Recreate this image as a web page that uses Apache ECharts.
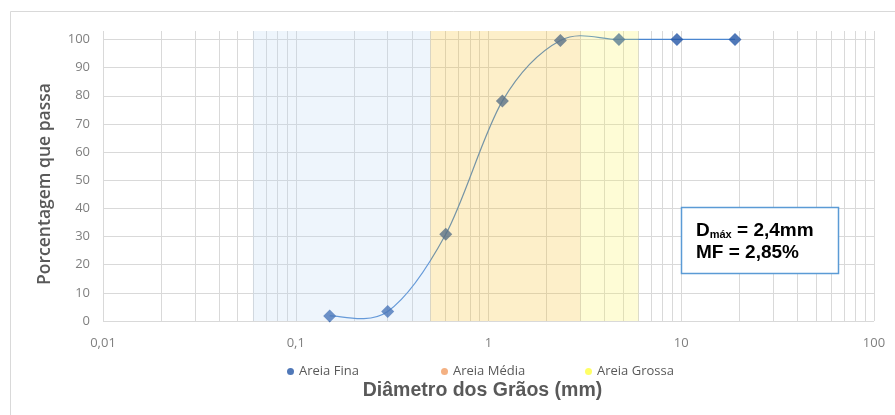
<!DOCTYPE html>
<html>
<head>
<meta charset="utf-8">
<script src="https://cdn.jsdelivr.net/npm/echarts@6/dist/echarts.min.js"></script>
<style>
html,body{margin:0;padding:0;background:#fff;}
#chart{width:895px;height:415px;}
</style>
</head>
<body>
<div id="chart"></div>
<script>
// ---- data ----
const diametros = [0.15, 0.3, 0.6, 1.18, 2.36, 4.75, 9.5, 19];
const passante = [1.8, 3.4, 30.8, 78.1, 99.6, 100, 100, 100];
const faixaFina = [0.06, 0.5];
const faixaMedia = [0.5, 3];
const faixaGrossa = [3, 6];
const legendas = ['Areia Fina', 'Areia Média', 'Areia Grossa'];
const yTicks = [0, 10, 20, 30, 40, 50, 60, 70, 80, 90, 100];
const decadas = [0.01, 0.1, 1, 10];

// log grid lines (axis decoration)
const xGrid = [];
decadas.forEach(d => { for (let k = 1; k <= 9; k++) xGrid.push(+(d * k).toPrecision(6)); });
xGrid.push(100);
const gridLineData = xGrid.map(v => ({ xAxis: v })).concat(yTicks.map(v => ({ yAxis: v })));

const pontos = diametros.map((d, i) => [d, passante[i]]);

const chart = echarts.init(document.getElementById('chart'), null, { renderer: 'canvas' });
const fmt = v => String(+(+v).toPrecision(6)).replace('.', ',');
const txt = '#595959';

// Excel-like smoothed curve (Catmull-Rom -> Bezier) through the data, via axis coords
function renderCurve(params, api) {
  if (params.dataIndex !== 0) return null;
  const p = pontos.map(pt => api.coord(pt));
  const n = p.length;
  const children = [];
  for (let i = 0; i < n - 1; i++) {
    const p0 = p[Math.max(i - 1, 0)], p1 = p[i], p2 = p[i + 1], p3 = p[Math.min(i + 2, n - 1)];
    children.push({
      type: 'bezierCurve',
      shape: {
        x1: p1[0], y1: p1[1], x2: p2[0], y2: p2[1],
        cpx1: p1[0] + (p2[0] - p0[0]) / 6, cpy1: p1[1] + (p2[1] - p0[1]) / 6,
        cpx2: p2[0] - (p3[0] - p1[0]) / 6, cpy2: p2[1] - (p3[1] - p1[1]) / 6
      },
      style: { fill: null, stroke: '#4a86d0', lineWidth: 1.2 }
    });
  }
  return { type: 'group', children: children };
}

const legendText = { color: txt, fontSize: 13, fontFamily: 'Open Sans' };

chart.setOption({
  animation: false,
  backgroundColor: '#fff',
  grid: { left: 103, right: 21, top: 31, bottom: 94 },
  xAxis: {
    type: 'log', logBase: 10, min: 0.01, max: 100,
    axisLine: { show: false }, axisTick: { show: false },
    splitLine: { show: false },
    axisLabel: { formatter: fmt, color: '#7f7f7f', fontSize: 13, fontFamily: 'Open Sans', margin: 16 },
    name: 'Diâmetro dos Grãos (mm)', nameLocation: 'middle', nameGap: 60,
    nameTextStyle: { color: txt, fontSize: 19.5, fontWeight: 'bold', fontFamily: 'Liberation Sans', padding: [0, 12, 0, 0] }
  },
  yAxis: {
    type: 'value', min: 0, max: 103, interval: 10,
    axisLine: { show: false }, axisTick: { show: false },
    splitLine: { show: false },
    axisLabel: { formatter: v => (v % 10 === 0 ? String(v) : ''), color: '#7f7f7f', fontSize: 13, fontFamily: 'Open Sans', margin: 13 },
    name: 'Porcentagem que passa', nameLocation: 'middle', nameGap: 49,
    nameTextStyle: { color: txt, fontSize: 17.5, fontFamily: 'Open Sans', fontWeight: 600, padding: [0, 16, 0, 0] }
  },
  legend: [
    { data: [legendas[0]], left: 282, top: 360, icon: 'circle', itemWidth: 7, itemHeight: 7, itemGap: 4, textStyle: legendText },
    { data: [legendas[1]], left: 436, top: 360, icon: 'circle', itemWidth: 7, itemHeight: 7, textStyle: legendText },
    { data: [legendas[2]], left: 580, top: 360, icon: 'circle', itemWidth: 7, itemHeight: 7, textStyle: legendText }
  ],
  series: [
    {
      name: 'grade', type: 'line', data: [], silent: true, z: 0,
      markLine: {
        z: 0, silent: true, symbol: ['none', 'none'], label: { show: false },
        lineStyle: { color: '#d9d9d9', width: 1, type: 'solid' },
        emphasis: { disabled: true },
        data: gridLineData
      }
    },
    {
      name: 'curva', type: 'custom', z: 2, silent: true,
      data: pontos, encode: { x: 0, y: 1 },
      renderItem: renderCurve
    },
    {
      name: legendas[0], type: 'scatter', z: 3,
      data: pontos,
      symbol: 'diamond', symbolSize: 13,
      itemStyle: { color: '#2456a6' }
    },
    {
      name: 'faixaFina', type: 'line', data: [], silent: true,
      markArea: { z: 10, silent: true, itemStyle: { color: 'rgba(187,215,243,0.25)' },
        data: [[{ xAxis: faixaFina[0] }, { xAxis: faixaFina[1] }]] }
    },
    {
      name: legendas[1], type: 'line', data: [], silent: true,
      itemStyle: { color: '#f4b183' },
      markArea: { z: 10, silent: true, itemStyle: { color: 'rgba(248,192,40,0.25)' },
        data: [[{ xAxis: faixaMedia[0] }, { xAxis: faixaMedia[1] }]] }
    },
    {
      name: legendas[2], type: 'line', data: [], silent: true,
      itemStyle: { color: '#ffff66' },
      markArea: { z: 10, silent: true, itemStyle: { color: 'rgba(251,243,92,0.25)' },
        data: [[{ xAxis: faixaGrossa[0] }, { xAxis: faixaGrossa[1] }]] }
    }
  ],
  graphic: [
    { type: 'rect', z: -1, shape: { x: 10.5, y: 11.5, width: 900, height: 420 },
      style: { fill: 'none', stroke: '#d9d9d9', lineWidth: 1 } },
    { type: 'rect', z: 100, shape: { x: 681.5, y: 207.5, width: 157, height: 66 },
      style: { fill: '#fff', stroke: '#5b9bd5', lineWidth: 1.5 } },
    { type: 'text', z: 101, left: 696, top: 221,
      style: {
        text: '{a|D}{s|máx}{a| = 2,4mm}\n{a|MF = 2,85%}',
        rich: {
          a: { fontSize: 19, fontWeight: 'bold', fontFamily: 'Liberation Sans', fill: '#000', lineHeight: 22, verticalAlign: 'bottom' },
          s: { fontSize: 11, fontWeight: 'bold', fontFamily: 'Liberation Sans', fill: '#000', lineHeight: 10, verticalAlign: 'bottom' }
        }
      } }
  ]
});
</script>
</body>
</html>
